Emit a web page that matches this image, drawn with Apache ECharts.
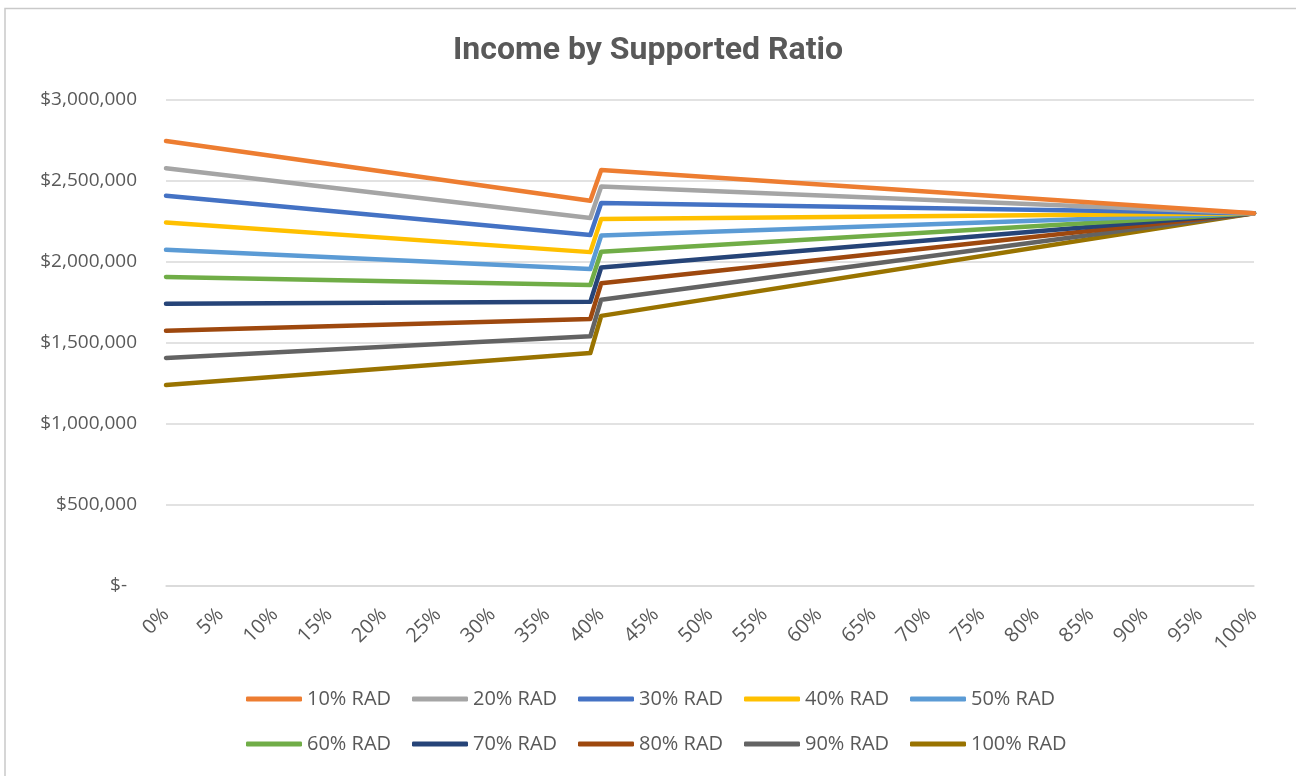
<!DOCTYPE html>
<html>
<head>
<meta charset="utf-8">
<title>Income by Supported Ratio</title>
<script src="https://cdn.jsdelivr.net/npm/echarts@6/dist/echarts.min.js"></script>
<style>
  html, body { margin: 0; padding: 0; background: #ffffff; }
  #chart { width: 1296px; height: 776px; }
</style>
</head>
<body>
<div id="chart"></div>
<script>
// Supported ratio (%) at which income is sampled; the step sits between 39% and 40%
const ratios = [0, 39, 40, 100];

// Income for each RAD share, one value per ratio above
const seriesNames = ['10% RAD', '20% RAD', '30% RAD', '40% RAD', '50% RAD',
                     '60% RAD', '70% RAD', '80% RAD', '90% RAD', '100% RAD'];
const rad10  = [2747000, 2377000, 2567000, 2300000];
const rad20  = [2578000, 2271000, 2466000, 2300000];
const rad30  = [2409000, 2166000, 2364000, 2300000];
const rad40  = [2243000, 2060000, 2264000, 2300000];
const rad50  = [2074000, 1955000, 2163000, 2300000];
const rad60  = [1907000, 1857000, 2063000, 2300000];
const rad70  = [1741000, 1753000, 1965000, 2300000];
const rad80  = [1574000, 1647000, 1867000, 2300000];
const rad90  = [1406000, 1540000, 1766000, 2300000];
const rad100 = [1239000, 1436000, 1666000, 2300000];
const seriesValues = [rad10, rad20, rad30, rad40, rad50, rad60, rad70, rad80, rad90, rad100];

const colors = ['#ED7D31', '#A5A5A5', '#4472C4', '#FFC000', '#5B9BD5',
                '#70AD47', '#264478', '#9E480E', '#636363', '#997300'];

const textColor = '#595959';
const labelFont = 'Open Sans';

const chart = echarts.init(document.getElementById('chart'), null, { renderer: 'canvas' });

function money(v) {
  if (v === 0) return '{dash|$-}';
  return '$' + v.toLocaleString('en-US');
}

const legendCommon = {
  orient: 'horizontal',
  left: 246,
  padding: 0,
  icon: 'roundRect',
  itemWidth: 56,
  itemHeight: 5,
  itemGap: 15,
  itemTextGap: 4,
  textStyle: {
    color: textColor, fontFamily: labelFont, fontSize: 20,
    width: 90, lineHeight: 24
  },
  selectedMode: false
};

chart.setOption({
  backgroundColor: '#ffffff',
  color: colors,
  animation: false,
  graphic: [{
    type: 'rect',
    shape: { x: 5, y: 8.5, width: 1400, height: 900 },
    style: { fill: 'none', stroke: '#c9c9c9', lineWidth: 1.5 },
    silent: true
  }],
  title: {
    text: 'Income by Supported Ratio',
    left: 'center',
    top: 30,
    textStyle: { color: textColor, fontFamily: 'Roboto', fontWeight: 'bold', fontSize: 32 }
  },
  legend: [
    Object.assign({}, legendCommon, { top: 687, data: seriesNames.slice(0, 5) }),
    Object.assign({}, legendCommon, { top: 732, data: seriesNames.slice(5) })
  ],
  grid: { left: 166, right: 42, top: 100, height: 485.5, containLabel: false },
  xAxis: {
    type: 'value',
    min: 0,
    max: 100,
    interval: 5,
    axisLine: { show: true, lineStyle: { color: '#d9d9d9', width: 1.5 } },
    axisTick: { show: false },
    splitLine: { show: false },
    axisLabel: {
      rotate: 45,
      margin: 26,
      color: textColor,
      fontFamily: labelFont,
      fontSize: 20,
      formatter: v => v + '%'
    }
  },
  yAxis: {
    type: 'value',
    min: 0,
    max: 3000000,
    interval: 500000,
    axisLine: { show: false },
    axisTick: { show: false },
    splitLine: { lineStyle: { color: '#d9d9d9', width: 1.5 } },
    axisLabel: {
      margin: 29,
      color: textColor,
      fontFamily: labelFont,
      fontSize: 19,
      formatter: money,
      rich: {
        dash: { color: textColor, fontFamily: labelFont, fontSize: 19, padding: [0, 10, 0, 0] }
      }
    }
  },
  series: seriesNames.map((name, i) => ({
    name: name,
    type: 'line',
    data: ratios.map((r, j) => [r, seriesValues[i][j]]),
    symbol: 'none',
    lineStyle: { width: 4.5, color: colors[i], cap: 'round', join: 'round' },
    itemStyle: { color: colors[i] },
    z: 10 - i
  }))
});
</script>
</body>
</html>
